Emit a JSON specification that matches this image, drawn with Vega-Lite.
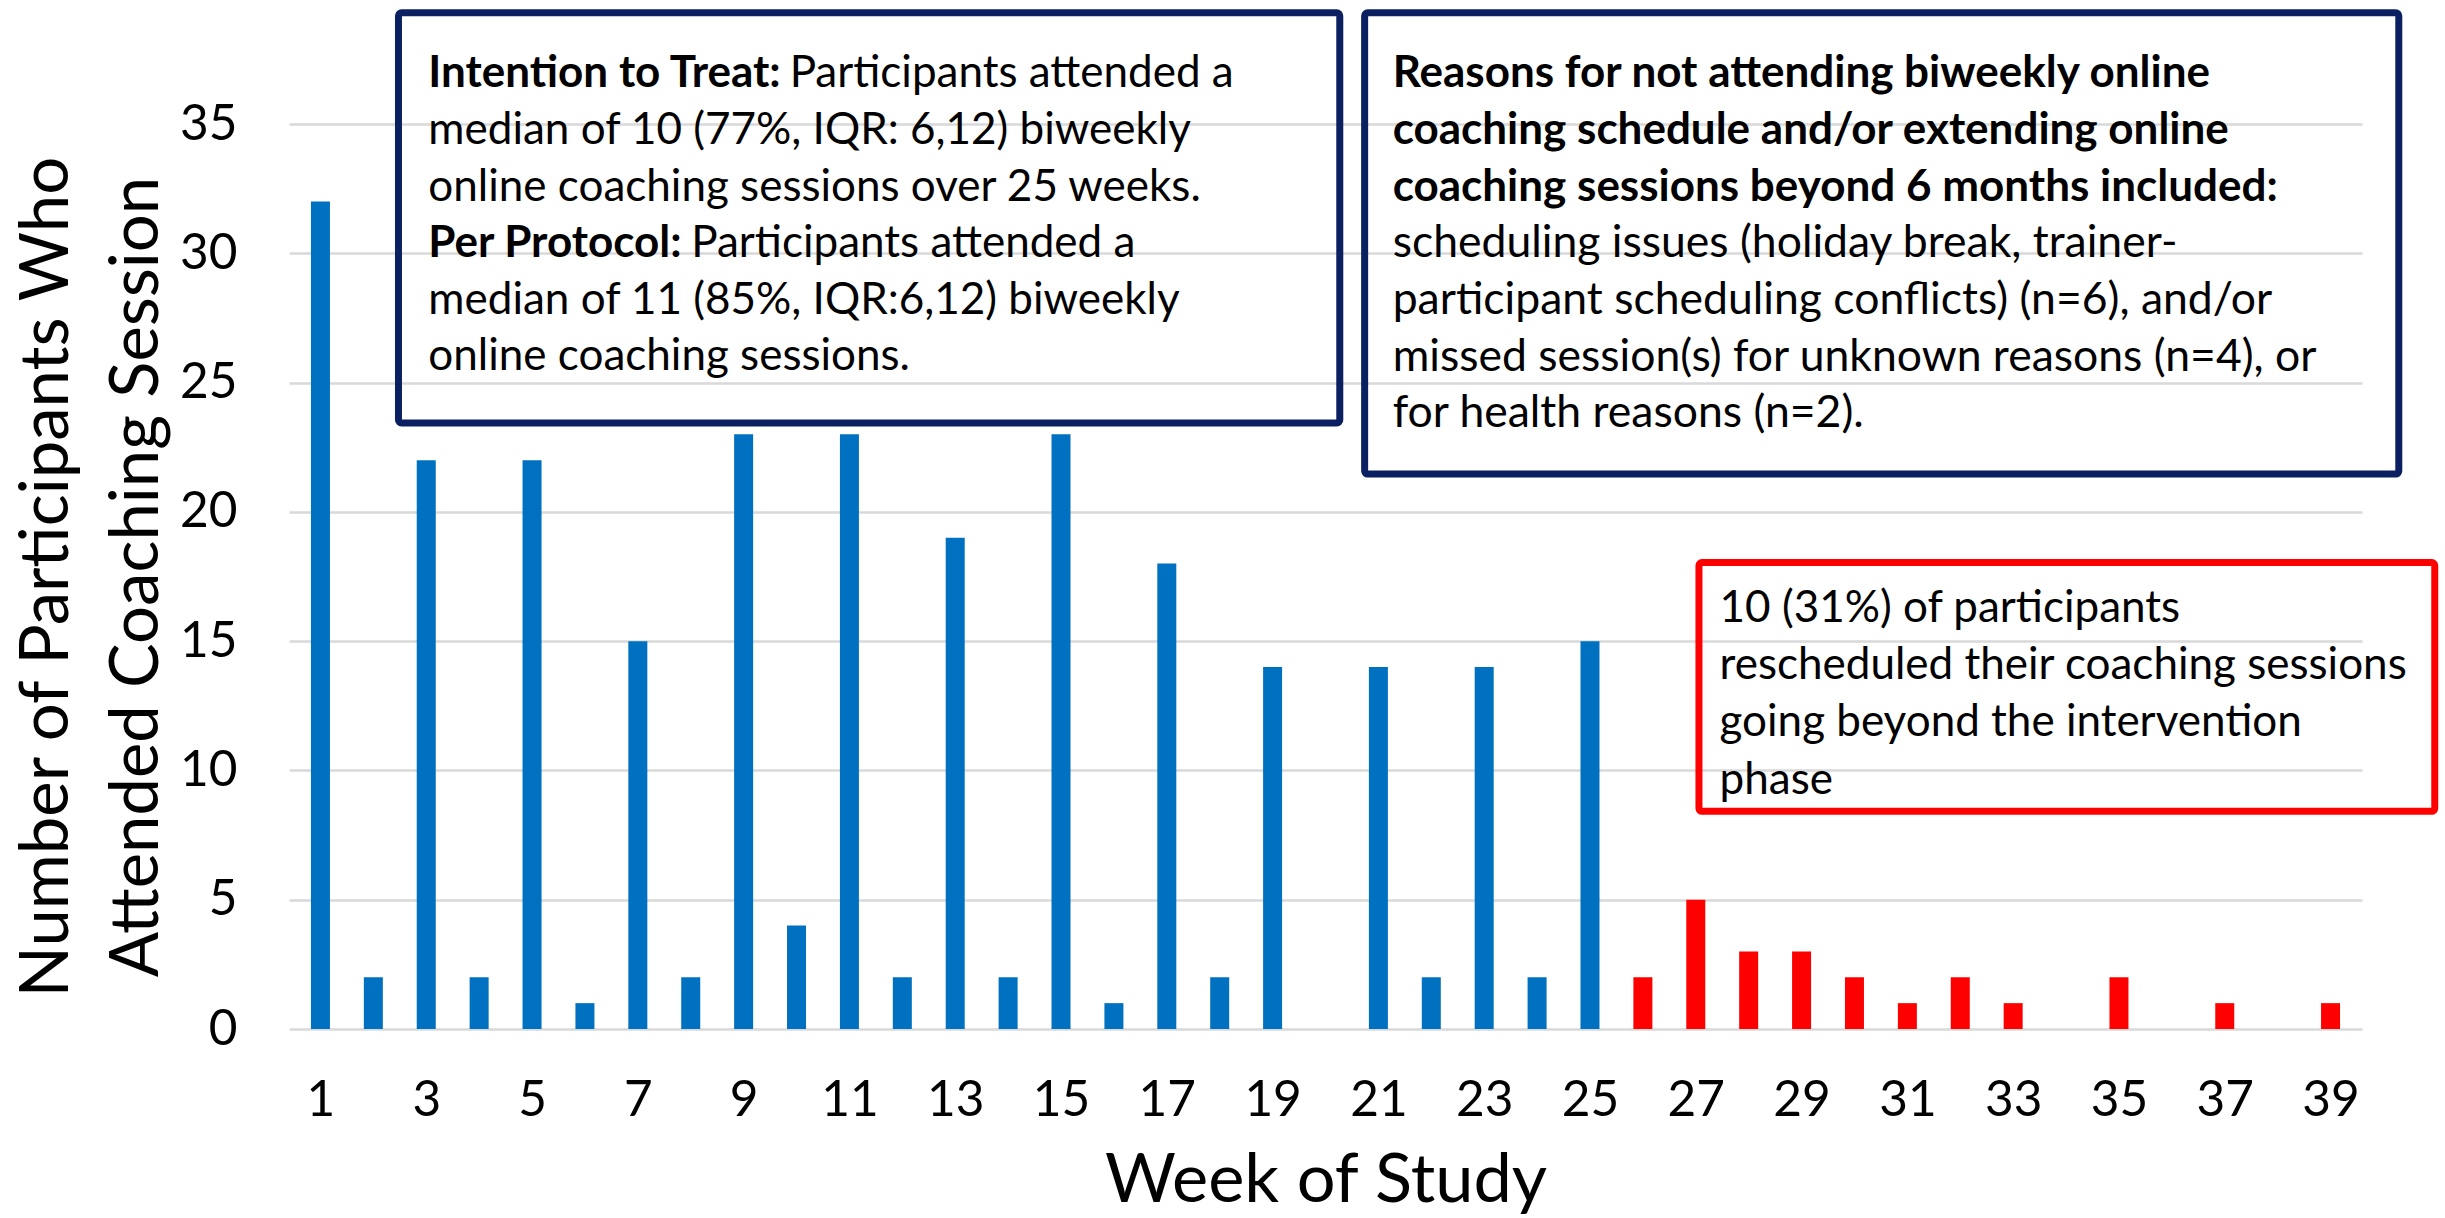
{
  "$schema": "https://vega.github.io/schema/vega-lite/v6.json",
  "width": 2073,
  "height": 905,
  "autosize": {"type": "none"},
  "padding": {"left": 289, "top": 124, "right": 83, "bottom": 189},
  "background": "white",
  "config": {"view": {"stroke": null}, "font": "Lato"},
  "layer": [
    {
      "data": {"values": [
        {"week": 1, "count": 32, "phase": "Intervention"},
        {"week": 2, "count": 2, "phase": "Intervention"},
        {"week": 3, "count": 22, "phase": "Intervention"},
        {"week": 4, "count": 2, "phase": "Intervention"},
        {"week": 5, "count": 22, "phase": "Intervention"},
        {"week": 6, "count": 1, "phase": "Intervention"},
        {"week": 7, "count": 15, "phase": "Intervention"},
        {"week": 8, "count": 2, "phase": "Intervention"},
        {"week": 9, "count": 23, "phase": "Intervention"},
        {"week": 10, "count": 4, "phase": "Intervention"},
        {"week": 11, "count": 23, "phase": "Intervention"},
        {"week": 12, "count": 2, "phase": "Intervention"},
        {"week": 13, "count": 19, "phase": "Intervention"},
        {"week": 14, "count": 2, "phase": "Intervention"},
        {"week": 15, "count": 23, "phase": "Intervention"},
        {"week": 16, "count": 1, "phase": "Intervention"},
        {"week": 17, "count": 18, "phase": "Intervention"},
        {"week": 18, "count": 2, "phase": "Intervention"},
        {"week": 19, "count": 14, "phase": "Intervention"},
        {"week": 20, "count": 0, "phase": "Intervention"},
        {"week": 21, "count": 14, "phase": "Intervention"},
        {"week": 22, "count": 2, "phase": "Intervention"},
        {"week": 23, "count": 14, "phase": "Intervention"},
        {"week": 24, "count": 2, "phase": "Intervention"},
        {"week": 25, "count": 15, "phase": "Intervention"},
        {"week": 26, "count": 2, "phase": "Beyond"},
        {"week": 27, "count": 5, "phase": "Beyond"},
        {"week": 28, "count": 3, "phase": "Beyond"},
        {"week": 29, "count": 3, "phase": "Beyond"},
        {"week": 30, "count": 2, "phase": "Beyond"},
        {"week": 31, "count": 1, "phase": "Beyond"},
        {"week": 32, "count": 2, "phase": "Beyond"},
        {"week": 33, "count": 1, "phase": "Beyond"},
        {"week": 34, "count": 0, "phase": "Beyond"},
        {"week": 35, "count": 2, "phase": "Beyond"},
        {"week": 36, "count": 0, "phase": "Beyond"},
        {"week": 37, "count": 1, "phase": "Beyond"},
        {"week": 38, "count": 0, "phase": "Beyond"},
        {"week": 39, "count": 1, "phase": "Beyond"}
      ]},
      "mark": {"type": "bar", "width": 19},
      "encoding": {
        "x": {
          "field": "week", "type": "quantitative",
          "scale": {"domain": [0.5, 39.5], "nice": false, "zero": false},
          "axis": {
            "values": [1, 3, 5, 7, 9, 11, 13, 15, 17, 19, 21, 23, 25, 27, 29, 31, 33, 35, 37, 39],
            "grid": false, "ticks": false, "domain": false,
            "labelFont": "Lato", "labelFontSize": 49.5, "labelColor": "#000000", "labelPadding": 47,
            "labelFlush": false, "labelOverlap": false,
            "title": "Week of Study", "titleFont": "Lato", "titleFontSize": 68.5, "titleFontWeight": "normal",
            "titleColor": "#000000", "titlePadding": 23
          }
        },
        "y": {
          "field": "count", "type": "quantitative",
          "scale": {"domain": [0, 35], "nice": false},
          "axis": {
            "values": [0, 5, 10, 15, 20, 25, 30, 35],
            "grid": true, "gridColor": "#d9d9d9", "gridWidth": 2.5,
            "ticks": false, "domain": false,
            "labelFont": "Lato", "labelFontSize": 49.5, "labelColor": "#000000", "labelPadding": 52,
            "labelFlush": false, "labelOverlap": false,
            "title": ["Number of Participants Who", "Attended Coaching Session"],
            "titleFont": "Lato", "titleFontSize": 67, "titleFontWeight": "normal",
            "titleColor": "#000000", "titlePadding": 8, "titleLineHeight": 90
          }
        },
        "color": {
          "field": "phase", "type": "nominal",
          "scale": {"domain": ["Intervention", "Beyond"], "range": ["#0070C0", "#FF0000"]},
          "legend": null
        }
      }
    },
    {
      "data": {"values": [{}]},
      "mark": {"type": "rect", "fill": null, "stroke": "#0B2060", "strokeWidth": 7, "cornerRadius": 3},
      "encoding": {
        "x": {"datum": 2.475, "type": "quantitative"},
        "x2": {"datum": 20.27},
        "y": {"datum": 39.3, "type": "quantitative"},
        "y2": {"datum": 23.44}
      }
    },
    {
      "data": {"values": [{}]},
      "mark": {"type": "rect", "fill": null, "stroke": "#0B2060", "strokeWidth": 7, "cornerRadius": 3},
      "encoding": {
        "x": {"datum": 20.74, "type": "quantitative"},
        "x2": {"datum": 40.29},
        "y": {"datum": 39.3, "type": "quantitative"},
        "y2": {"datum": 21.46}
      }
    },
    {
      "data": {"values": [{}]},
      "mark": {"type": "rect", "fill": null, "stroke": "#FF0000", "strokeWidth": 7, "cornerRadius": 3},
      "encoding": {
        "x": {"datum": 27.06, "type": "quantitative"},
        "x2": {"datum": 40.97},
        "y": {"datum": 18.04, "type": "quantitative"},
        "y2": {"datum": 8.42}
      }
    },
    {
      "data": {"values": [{}]},
      "mark": {"type": "text", "align": "left", "baseline": "alphabetic", "font": "Lato", "fontSize": 44, "fontWeight": "bold", "color": "#000000", "text": "Intention to Treat:"},
      "encoding": {"x": {"datum": 3.04, "type": "quantitative"}, "y": {"datum": 36.42, "type": "quantitative"}}
    },
    {
      "data": {"values": [{}]},
      "mark": {"type": "text", "align": "left", "baseline": "alphabetic", "font": "Lato", "fontSize": 44, "fontWeight": "normal", "color": "#000000", "text": "Participants attended a"},
      "encoding": {"x": {"datum": 9.87, "type": "quantitative"}, "y": {"datum": 36.42, "type": "quantitative"}}
    },
    {
      "data": {"values": [{}]},
      "mark": {"type": "text", "align": "left", "baseline": "alphabetic", "font": "Lato", "fontSize": 44, "fontWeight": "normal", "color": "#000000", "lineHeight": 56.7,
        "text": ["median of 10 (77%, IQR: 6,12) biweekly", "online coaching sessions over 25 weeks."]},
      "encoding": {"x": {"datum": 3.04, "type": "quantitative"}, "y": {"datum": 34.23, "type": "quantitative"}}
    },
    {
      "data": {"values": [{}]},
      "mark": {"type": "text", "align": "left", "baseline": "alphabetic", "font": "Lato", "fontSize": 44, "fontWeight": "bold", "color": "#000000", "text": "Per Protocol:"},
      "encoding": {"x": {"datum": 3.04, "type": "quantitative"}, "y": {"datum": 29.85, "type": "quantitative"}}
    },
    {
      "data": {"values": [{}]},
      "mark": {"type": "text", "align": "left", "baseline": "alphabetic", "font": "Lato", "fontSize": 44, "fontWeight": "normal", "color": "#000000", "text": "Participants attended a"},
      "encoding": {"x": {"datum": 8.01, "type": "quantitative"}, "y": {"datum": 29.85, "type": "quantitative"}}
    },
    {
      "data": {"values": [{}]},
      "mark": {"type": "text", "align": "left", "baseline": "alphabetic", "font": "Lato", "fontSize": 44, "fontWeight": "normal", "color": "#000000", "lineHeight": 56.7,
        "text": ["median of 11 (85%, IQR:6,12) biweekly", "online coaching sessions."]},
      "encoding": {"x": {"datum": 3.04, "type": "quantitative"}, "y": {"datum": 27.66, "type": "quantitative"}}
    },
    {
      "data": {"values": [{}]},
      "mark": {"type": "text", "align": "left", "baseline": "alphabetic", "font": "Lato", "fontSize": 44, "fontWeight": "bold", "color": "#000000", "lineHeight": 56.7,
        "text": ["Reasons for not attending biweekly online", "coaching schedule and/or extending online", "coaching sessions beyond 6 months included:"]},
      "encoding": {"x": {"datum": 21.27, "type": "quantitative"}, "y": {"datum": 36.42, "type": "quantitative"}}
    },
    {
      "data": {"values": [{}]},
      "mark": {"type": "text", "align": "left", "baseline": "alphabetic", "font": "Lato", "fontSize": 44.5, "fontWeight": "normal", "color": "#000000", "lineHeight": 56.7,
        "text": ["scheduling issues (holiday break, trainer-", "participant scheduling conflicts) (n=6), and/or", "missed session(s) for unknown reasons (n=4), or", "for health reasons (n=2)."]},
      "encoding": {"x": {"datum": 21.27, "type": "quantitative"}, "y": {"datum": 29.85, "type": "quantitative"}}
    },
    {
      "data": {"values": [{}]},
      "mark": {"type": "text", "align": "left", "baseline": "alphabetic", "font": "Lato", "fontSize": 44, "fontWeight": "normal", "color": "#000000", "lineHeight": 57.3,
        "text": ["10 (31%) of participants", "rescheduled their coaching sessions", "going beyond the intervention", "phase"]},
      "encoding": {"x": {"datum": 27.45, "type": "quantitative"}, "y": {"datum": 15.75, "type": "quantitative"}}
    }
  ]
}
